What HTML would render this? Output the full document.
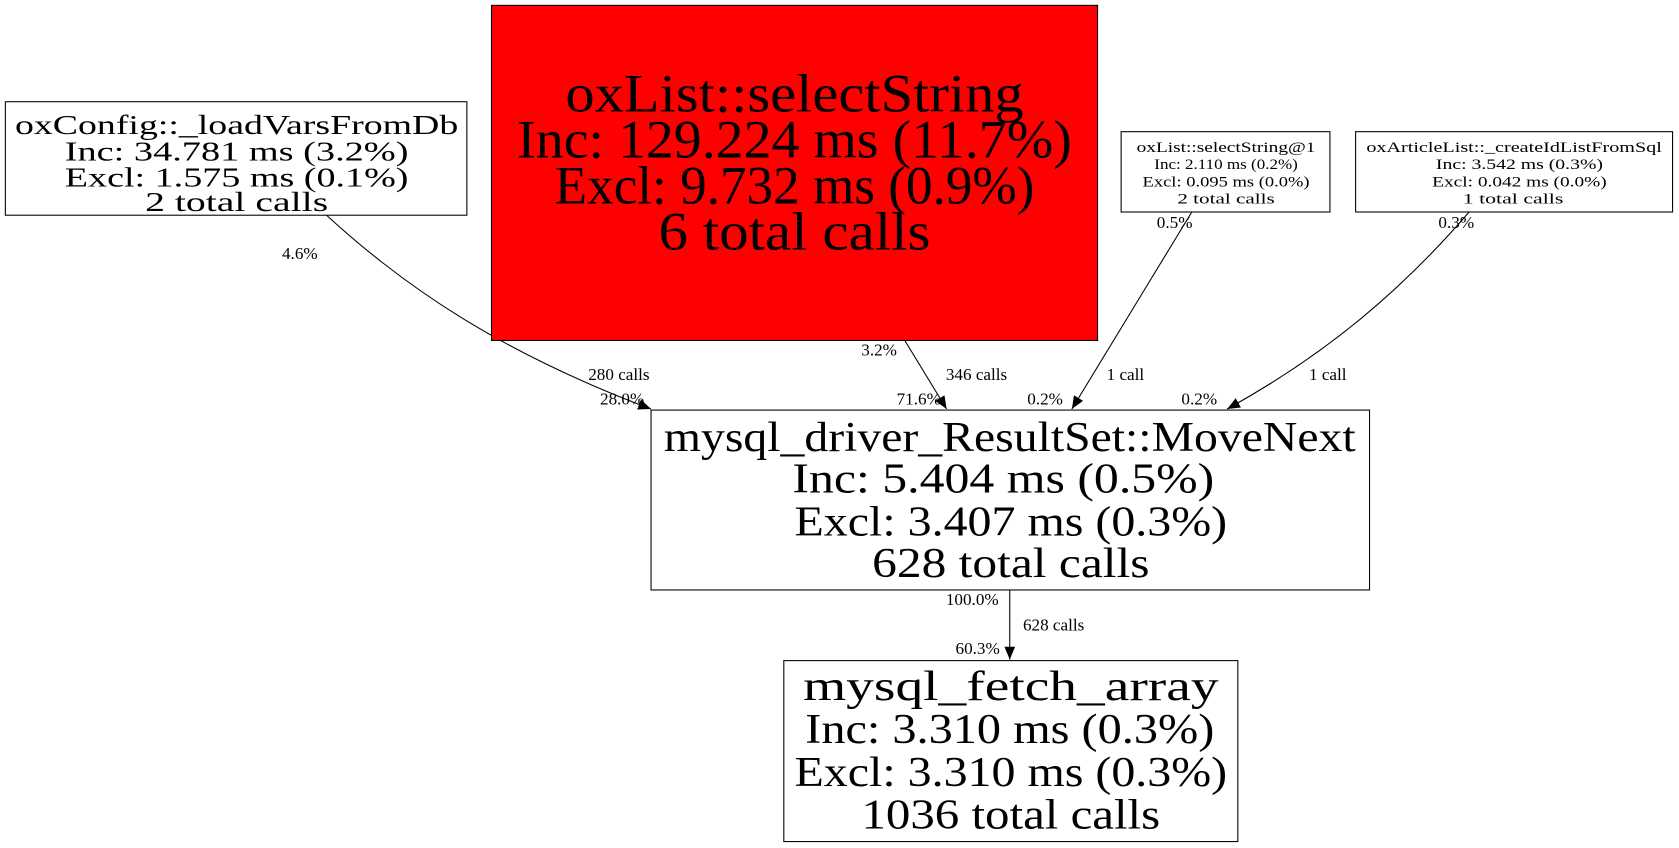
<!DOCTYPE html>
<html><head><meta charset="utf-8"><style>
html,body{margin:0;padding:0;background:#fff;}
svg{display:block;}
text{font-family:"Liberation Serif","DejaVu Serif",serif;fill:#000;}
</style></head><body>
<svg width="1679" height="848" viewBox="0 0 1568 792" preserveAspectRatio="none" xmlns="http://www.w3.org/2000/svg">
<defs><marker id="a" markerWidth="12" markerHeight="10" refX="12" refY="5" orient="auto" markerUnits="userSpaceOnUse"><path d="M0,0 L12,5 L0,10 z" fill="#000"/></marker></defs>
<rect x="0" y="0" width="1568" height="792" fill="#fff"/>
<g fill="none" stroke="#000" stroke-width="1">
<path d="M305,201 C380,270 470,330 608,382" marker-end="url(#a)"/>
<path d="M845,318 L884,382" marker-end="url(#a)"/>
<path d="M1113,198 L1001,382" marker-end="url(#a)"/>
<path d="M1372,198 C1310,270 1240,330 1146,382" marker-end="url(#a)"/>
<path d="M943,551 L943,616" marker-end="url(#a)"/>
</g>
<g font-size="16" text-anchor="middle">
<text x="280" y="242">4.6%</text>
<text x="578" y="355">280 calls</text>
<text x="581" y="378">28.0%</text>
<text x="821" y="332">3.2%</text>
<text x="912" y="355">346 calls</text>
<text x="858" y="378">71.6%</text>
<text x="1097" y="213">0.5%</text>
<text x="1051" y="355">1 call</text>
<text x="976" y="378">0.2%</text>
<text x="1360" y="213">0.3%</text>
<text x="1240" y="355">1 call</text>
<text x="1120" y="378">0.2%</text>
<text x="908" y="565">100.0%</text>
<text x="984" y="589">628 calls</text>
<text x="913" y="611">60.3%</text>
</g>
<rect x="5" y="95" width="431" height="106" fill="#fff" stroke="#000"/>
<g font-size="26" text-anchor="middle">
<text x="221" y="125" textLength="414" lengthAdjust="spacingAndGlyphs">oxConfig::_loadVarsFromDb</text>
<text x="221" y="150" textLength="321" lengthAdjust="spacingAndGlyphs">Inc: 34.781 ms (3.2%)</text>
<text x="221" y="174" textLength="321" lengthAdjust="spacingAndGlyphs">Excl: 1.575 ms (0.1%)</text>
<text x="221" y="197" textLength="171" lengthAdjust="spacingAndGlyphs">2 total calls</text>
</g>
<rect x="459" y="5" width="566" height="313" fill="#ff0000" stroke="#000"/>
<g font-size="50" text-anchor="middle">
<text x="742" y="104" textLength="428" lengthAdjust="spacingAndGlyphs">oxList::selectString</text>
<text x="742" y="147" textLength="518" lengthAdjust="spacingAndGlyphs">Inc: 129.224 ms (11.7%)</text>
<text x="742" y="190" textLength="448" lengthAdjust="spacingAndGlyphs">Excl: 9.732 ms (0.9%)</text>
<text x="742" y="233" textLength="254" lengthAdjust="spacingAndGlyphs">6 total calls</text>
</g>
<rect x="1047" y="123" width="195" height="75" fill="#fff" stroke="#000"/>
<g font-size="14" text-anchor="middle">
<text x="1145" y="142" textLength="167" lengthAdjust="spacingAndGlyphs">oxList::selectString@1</text>
<text x="1145" y="158" textLength="134" lengthAdjust="spacingAndGlyphs">Inc: 2.110 ms (0.2%)</text>
<text x="1145" y="174" textLength="156" lengthAdjust="spacingAndGlyphs">Excl: 0.095 ms (0.0%)</text>
<text x="1145" y="190" textLength="91" lengthAdjust="spacingAndGlyphs">2 total calls</text>
</g>
<rect x="1266" y="123" width="296" height="75" fill="#fff" stroke="#000"/>
<g font-size="14" text-anchor="middle">
<text x="1414" y="142" textLength="276" lengthAdjust="spacingAndGlyphs">oxArticleList::_createIdListFromSql</text>
<text x="1419" y="158" textLength="156" lengthAdjust="spacingAndGlyphs">Inc: 3.542 ms (0.3%)</text>
<text x="1419" y="174" textLength="163" lengthAdjust="spacingAndGlyphs">Excl: 0.042 ms (0.0%)</text>
<text x="1413" y="190" textLength="94" lengthAdjust="spacingAndGlyphs">1 total calls</text>
</g>
<rect x="608" y="383" width="671" height="168" fill="#fff" stroke="#000"/>
<g font-size="40" text-anchor="middle">
<text x="943" y="421" textLength="646" lengthAdjust="spacingAndGlyphs">mysql_driver_ResultSet::MoveNext</text>
<text x="937" y="460" textLength="394" lengthAdjust="spacingAndGlyphs">Inc: 5.404 ms (0.5%)</text>
<text x="944" y="500" textLength="404" lengthAdjust="spacingAndGlyphs">Excl: 3.407 ms (0.3%)</text>
<text x="944" y="539" textLength="259" lengthAdjust="spacingAndGlyphs">628 total calls</text>
</g>
<rect x="732" y="617" width="424" height="169" fill="#fff" stroke="#000"/>
<g font-size="40" text-anchor="middle">
<text x="944" y="654" textLength="388" lengthAdjust="spacingAndGlyphs">mysql_fetch_array</text>
<text x="943" y="694" textLength="382" lengthAdjust="spacingAndGlyphs">Inc: 3.310 ms (0.3%)</text>
<text x="944" y="734" textLength="404" lengthAdjust="spacingAndGlyphs">Excl: 3.310 ms (0.3%)</text>
<text x="944" y="774" textLength="279" lengthAdjust="spacingAndGlyphs">1036 total calls</text>
</g>
</svg>
</body></html>
